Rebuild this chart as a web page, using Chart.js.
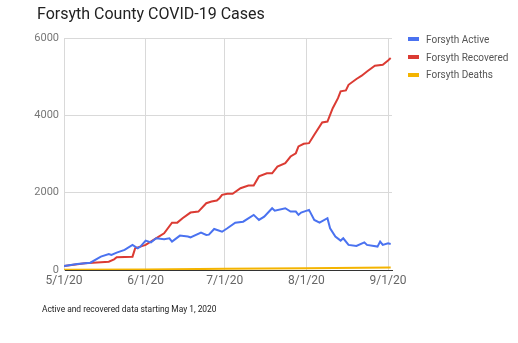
<!DOCTYPE html>
<html>
<head>
<meta charset="utf-8">
<script src="https://cdn.jsdelivr.net/npm/chart.js@4/dist/chart.umd.min.js"></script>
<style>
    body { margin: 0; background: #fff; font-family: Roboto, "Noto Sans", sans-serif; }
    #wrap { position: relative; width: 518px; height: 343px; overflow: hidden; }
    #title { position: absolute; left: 37px; top: 4px; font-size: 16px; line-height: 20px; color: #222; }
    #legend { position: absolute; left: 408px; top: 31px; font-size: 10px; color: #555; }
    #legend div { height: 17.7px; line-height: 17px; white-space: nowrap; }
    #legend span { display: inline-block; width: 11px; height: 4px; vertical-align: middle; margin-right: 7px; position: relative; top: -1px; }
    #note { position: absolute; left: 42px; top: 304px; font-size: 8.4px; color: #222; }
    canvas { position: absolute; left: 0; top: 0; }
</style>
</head>
<body>
<div id="wrap">
    <canvas id="chart" width="518" height="343"></canvas>
    <div id="title">Forsyth County COVID-19 Cases</div>
    <div id="legend"></div>
    <div id="note">Active and recovered data starting May 1, 2020</div>
</div>
<script>
// day 0 = 5/1/20
const tickDays   = [0, 31, 61, 92, 123];
const tickLabels = ['5/1/20', '6/1/20', '7/1/20', '8/1/20', '9/1/20'];

const activeDays   = [0, 5, 10, 14, 17, 18, 20, 23, 26, 28, 29, 31, 33, 35, 38, 40, 41, 44, 47, 48, 52, 54, 55, 57, 60, 62, 65, 68, 72, 74, 76, 79, 80, 84, 86, 88, 89, 90, 93, 95, 97, 100, 101, 103, 105, 106, 108, 111, 114, 115, 119, 120, 121, 123, 124];
const activeValues = [100, 155, 190, 345, 415, 390, 450, 520, 650, 560, 605, 760, 715, 820, 795, 820, 735, 890, 865, 845, 965, 905, 915, 1060, 990, 1080, 1225, 1250, 1425, 1295, 1380, 1598, 1535, 1598, 1510, 1510, 1425, 1485, 1555, 1295, 1225, 1340, 1080, 865, 760, 820, 650, 620, 715, 650, 605, 735, 650, 690, 675];

const recoveredDays   = [0, 8, 17, 19, 20, 26, 27, 29, 31, 34, 38, 41, 43, 45, 48, 51, 54, 56, 58, 59, 60, 62, 64, 67, 70, 72, 74, 77, 79, 81, 84, 86, 88, 89, 91, 93, 95, 98, 100, 102, 104, 105, 107, 108, 111, 113, 115, 118, 121, 123, 124];
const recoveredValues = [100, 175, 215, 277, 330, 345, 560, 605, 650, 777, 950, 1225, 1225, 1340, 1485, 1510, 1727, 1770, 1795, 1857, 1943, 1970, 1970, 2115, 2185, 2185, 2420, 2500, 2500, 2675, 2763, 2935, 3020, 3195, 3265, 3280, 3500, 3815, 3840, 4185, 4445, 4620, 4645, 4790, 4940, 5025, 5135, 5285, 5310, 5420, 5480];

const deathDays   = [0, 31, 61, 92, 124];
const deathValues = [5, 15, 30, 45, 65];

const seriesNames  = ['Forsyth Active', 'Forsyth Recovered', 'Forsyth Deaths'];
const seriesColors = ['#4a72f0', '#db3b33', '#f4b400'];

const toPoints = (xs, ys) => xs.map((x, i) => ({ x, y: ys[i] }));

const datasets = [
    toPoints(activeDays, activeValues),
    toPoints(recoveredDays, recoveredValues),
    toPoints(deathDays, deathValues),
].map((data, i) => ({
    label: seriesNames[i],
    data,
    borderColor: seriesColors[i],
    backgroundColor: seriesColors[i],
    borderWidth: 2,
    pointRadius: 0,
    tension: 0,
    order: i === 2 ? 0 : 1,
}));

document.getElementById('legend').innerHTML = seriesNames
    .map((n, i) => `<div><span style="background:${seriesColors[i]}"></span>${n}</div>`)
    .join('');

new Chart(document.getElementById('chart'), {
    type: 'line',
    data: { datasets },
    options: {
        responsive: false,
        animation: false,
        layout: { padding: { left: 0, top: 38, right: 126, bottom: 52 } },
        plugins: { legend: { display: false }, tooltip: { enabled: false } },
        scales: {
            x: {
                type: 'linear',
                min: 0,
                max: 124.5,
                afterBuildTicks: s => { s.ticks = tickDays.map(v => ({ value: v })); },
                afterFit: s => { s.height = 21; },
                ticks: {
                    color: '#666',
                    font: { family: 'Roboto', size: 12 },
                    padding: 4,
                    maxRotation: 0,
                    callback: v => tickLabels[tickDays.indexOf(v)],
                },
                grid: { color: '#d9d9d9', drawTicks: false },
                border: { color: '#333', width: 1 },
            },
            y: {
                min: 0,
                max: 6000,
                afterFit: s => { s.width = 64; },
                ticks: {
                    stepSize: 2000,
                    color: '#777',
                    font: { family: 'Roboto', size: 11 },
                    padding: 5,
                    callback: v => String(v),
                },
                grid: { color: '#d9d9d9', drawTicks: false },
                border: { color: '#d9d9d9' },
            },
        },
    },
});
</script>
</body>
</html>
